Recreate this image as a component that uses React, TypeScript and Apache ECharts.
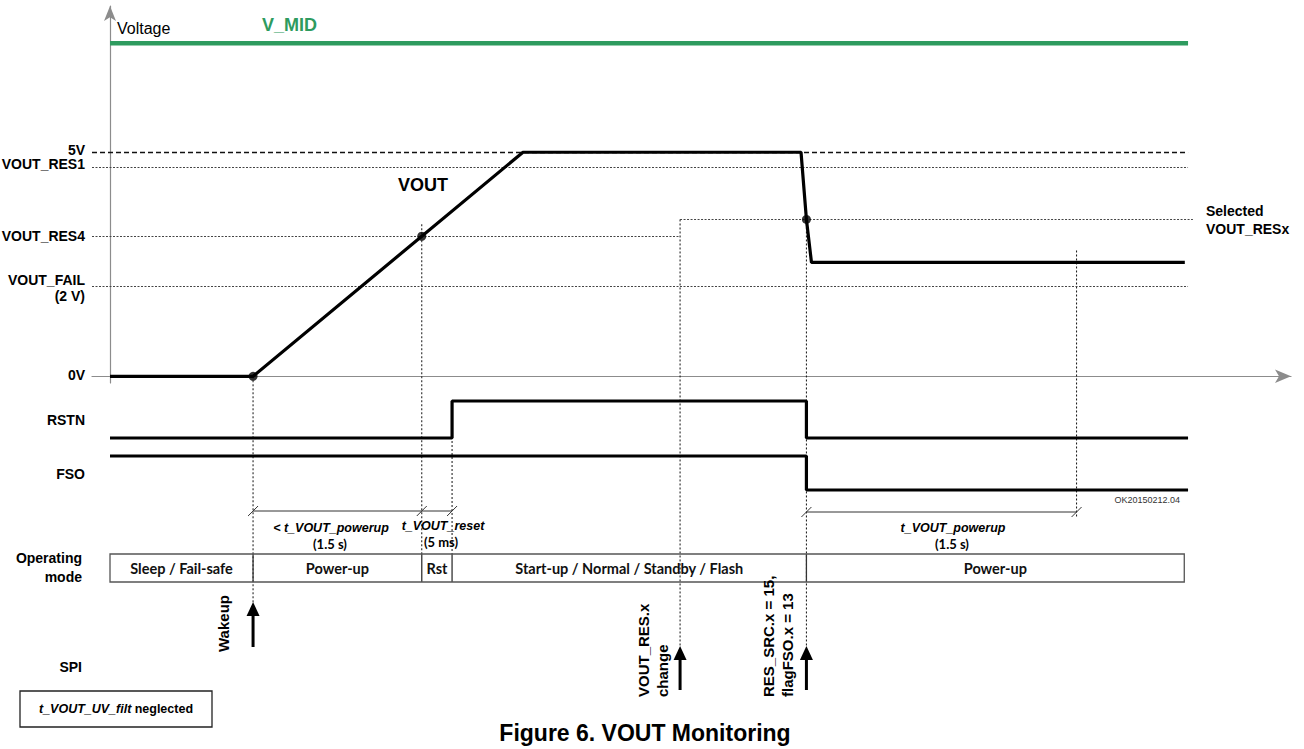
import React, { useEffect, useRef } from "react";
import * as echarts from "echarts";

// ---- data (time in arbitrary units 0..100, voltage in V, logic levels 0/1) ----
const voutTime = [0, 13.27, 38.31, 64.1, 64.6, 65.07, 99.7];
const voutVolt = [0, 0, 5, 5, 3.5, 2.54, 2.54];
const markerTime = [13.27, 28.92, 64.6];
const markerVolt = [0, 3.125, 3.5];
const rstnTime = [0, 31.73, 31.73, 64.6, 64.6, 100];
const rstnLevel = [0, 0, 1, 1, 0, 0];
const fsoTime = [0, 64.6, 64.6, 100];
const fsoLevel = [1, 1, 0, 0];
const vMidTime = [0, 100];
const vMidVolt = [7.43, 7.43];
const thresholdNames = ["5V", "VOUT_RES1", "VOUT_RES4", "VOUT_FAIL"];
const thresholdVolts = [5, 4.67, 3.125, 2.0];
const thresholdEnd = [100, 100, 52.88, 100];
const selectedResx = 3.5;
const selectedEnd = 100.45;
const resChangeTime = 52.88;
const wakeTime = 13.27;
const res4Time = 28.92;
const resetEndTime = 31.73;
const dropTime = 64.6;
const powerupEndTime = 89.66;
const modeNames = ["Sleep / Fail-safe", "Power-up", "Rst", "Start-up / Normal / Standby / Flash", "Power-up"];
const modeBounds = [0, 13.27, 28.92, 31.73, 64.6, 99.65];

const T_MIN = -1.67;
const T_MAX = 109.55;
const ARIAL = '"Liberation Sans", Arial, Helvetica, sans-serif';
const LATO = 'Lato, "Open Sans", sans-serif';

const zip = (a: number[], b: number[]) => a.map((v, i) => [v, b[i]]);

function buildOption(): any {
  const thrLines = thresholdVolts.map((v, i) => [
    {
      coord: [T_MIN, v],
      lineStyle:
        i === 0
          ? { type: [5, 3], width: 1.4, color: "#111" }
          : { type: [2, 1.5], width: 1, color: "#444" },
    },
    { coord: [thresholdEnd[i], v] },
  ]);
  thrLines.push([
    { coord: [resChangeTime, selectedResx], lineStyle: { type: [2, 1.5], width: 1, color: "#444" } },
    { coord: [selectedEnd, selectedResx] },
  ] as any);

  const hiddenX = (gi: number) => ({
    type: "value", gridIndex: gi, min: T_MIN, max: T_MAX, show: false,
  });
  const hiddenY = (gi: number) => ({
    type: "value", gridIndex: gi, min: 0, max: 1, show: false,
  });

  return {
    animation: false,
    backgroundColor: "#ffffff",
    grid: [
      { left: 92, right: 13, top: 6, bottom: 366 },
      { left: 92, right: 13, top: 401, bottom: 311 },
      { left: 92, right: 13, top: 456, bottom: 259 },
    ],
    xAxis: [
      {
        type: "value", gridIndex: 0, min: T_MIN, max: T_MAX,
        axisLine: {
          show: true, onZero: true, symbol: ["none", "arrow"], symbolSize: [10, 16],
          lineStyle: { color: "#8c8c8c", width: 1.2 },
        },
        axisTick: { show: false }, axisLabel: { show: false }, splitLine: { show: false },
      },
      hiddenX(1),
      hiddenX(2),
    ],
    yAxis: [
      {
        type: "value", gridIndex: 0, min: -0.15, max: 8.264,
        axisLine: {
          show: true, onZero: true, symbol: ["none", "arrow"], symbolSize: [9, 15],
          lineStyle: { color: "#8c8c8c", width: 1.2 },
        },
        axisTick: { show: false }, axisLabel: { show: false }, splitLine: { show: false },
      },
      hiddenY(1),
      hiddenY(2),
    ],
    series: [
      {
        name: "V_MID", type: "line", xAxisIndex: 0, yAxisIndex: 0, clip: false,
        data: zip(vMidTime, vMidVolt), symbol: "none",
        lineStyle: { color: "#2e9b5f", width: 4.5 }, z: 3,
      },
      {
        name: "VOUT", type: "line", xAxisIndex: 0, yAxisIndex: 0, clip: false,
        data: zip(voutTime, voutVolt), symbol: "none",
        lineStyle: { color: "#000", width: 3.2 }, z: 5,
        markLine: {
          silent: true, symbol: "none", label: { show: false }, animation: false,
          data: thrLines,
        },
      },
      {
        name: "markers", type: "scatter", xAxisIndex: 0, yAxisIndex: 0, clip: false,
        data: zip(markerTime, markerVolt), symbolSize: 9,
        itemStyle: { color: "#000" }, z: 6,
      },
      {
        name: "RSTN", type: "line", xAxisIndex: 1, yAxisIndex: 1, clip: false,
        data: zip(rstnTime, rstnLevel), symbol: "none",
        lineStyle: { color: "#000", width: 3.2 }, z: 5,
      },
      {
        name: "FSO", type: "line", xAxisIndex: 2, yAxisIndex: 2, clip: false,
        data: zip(fsoTime, fsoLevel), symbol: "none",
        lineStyle: { color: "#000", width: 3.2 }, z: 5,
      },
    ],
  };
}

function buildGraphic(chart: any): any[] {
  const px = (t: number) => chart.convertToPixel({ xAxisIndex: 0 }, t) as number;
  const py = (v: number) => chart.convertToPixel({ yAxisIndex: 0 }, v) as number;
  const pyR = (v: number) => chart.convertToPixel({ yAxisIndex: 1 }, v) as number;
  const pyF = (v: number) => chart.convertToPixel({ yAxisIndex: 2 }, v) as number;

  const els: any[] = [];
  const text = (x: number, y: number, t: string, font: string, align = "left", fill = "#000", rotation = 0) => {
    els.push({
      type: "text", x, y, rotation, z: 10,
      style: { text: t, font, fill, align, verticalAlign: "middle" },
    });
  };
  const line = (x1: number, y1: number, x2: number, y2: number, stroke: string, lineWidth: number, lineDash?: number[]) => {
    els.push({
      type: "line", z: 1,
      shape: { x1, y1, x2, y2 },
      style: { stroke, lineWidth, lineDash: lineDash || null },
    });
  };
  const BOLD14 = `bold 14px ${ARIAL}`;

  // left labels
  const thrOffsets = [-2, -3, 0, -7];
  thresholdNames.forEach((n, i) => text(85, py(thresholdVolts[i]) + thrOffsets[i], n, BOLD14, "right"));
  text(85, py(2.0) + 9, "(2 V)", BOLD14, "right");
  text(85, py(0) - 1, "0V", BOLD14, "right");
  text(85, (pyR(0) + pyR(1)) / 2, "RSTN", BOLD14, "right");
  text(85, (pyF(0) + pyF(1)) / 2 + 1, "FSO", BOLD14, "right");
  text(82, 558, "Operating", BOLD14, "right");
  text(82, 577, "mode", BOLD14, "right");
  text(82, 667, "SPI", BOLD14, "right");

  // top labels
  text(px(0) + 7, 28, "Voltage", `16px ${ARIAL}`);
  text(262, py(vMidVolt[0]) - 18, "V_MID", `bold 18px ${ARIAL}`, "left", "#2e9b5f");
  text(398, 185, "VOUT", `bold 18px ${ARIAL}`);
  text(1206, py(selectedResx) - 8, "Selected", BOLD14);
  text(1206, py(selectedResx) + 10, "VOUT_RESx", BOLD14);
  text(1180, pyF(0) + 10, "OK20150212.04", `9px ${ARIAL}`, "right", "#333");

  // vertical dotted guides
  const dot = [2, 2];
  line(px(wakeTime), py(0), px(wakeTime), 603, "#111", 1, dot);
  line(px(res4Time), py(3.125) - 12, px(res4Time), 554, "#111", 1, dot);
  line(px(resetEndTime), pyR(1), px(resetEndTime), 554, "#111", 1, dot);
  line(px(resChangeTime), py(selectedResx), px(resChangeTime), 647, "#111", 1, dot);
  line(px(dropTime), py(selectedResx), px(dropTime), 647, "#111", 1, dot);
  line(px(powerupEndTime), py(2.54) - 12, px(powerupEndTime), 518, "#111", 1, dot);

  // dimension lines
  const tick = (x: number, y: number) => line(x - 5, y + 5, x + 5, y - 5, "#333", 1);
  line(px(wakeTime), 511, px(resetEndTime), 511, "#333", 1);
  [wakeTime, res4Time, resetEndTime].forEach((t) => tick(px(t), 511));
  line(px(dropTime), 512, px(powerupEndTime), 512, "#333", 1);
  [dropTime, powerupEndTime].forEach((t) => tick(px(t), 512));

  const ITAL = `italic bold 12.5px ${ARIAL}`;
  const PAREN = `bold 13px ${LATO}`;
  text(331, 528, "< t_VOUT_powerup", ITAL, "center");
  text(330, 544, "(1.5 s)", PAREN, "center");
  text(443, 526, "t_VOUT_reset", ITAL, "center");
  text(441, 542, "(5 ms)", PAREN, "center");
  text(953, 528, "t_VOUT_powerup", ITAL, "center");
  text(952, 544, "(1.5 s)", PAREN, "center");

  // operating mode box
  const bx0 = px(modeBounds[0]);
  const bx1 = px(modeBounds[modeBounds.length - 1]);
  els.push({
    type: "rect", z: 2,
    shape: { x: bx0, y: 554, width: bx1 - bx0, height: 28 },
    style: { fill: "none", stroke: "#555", lineWidth: 1.3 },
  });
  for (let i = 1; i < modeBounds.length - 1; i++) {
    line(px(modeBounds[i]), 554, px(modeBounds[i]), 582, "#333", 1.3);
  }
  modeNames.forEach((n, i) => {
    const cx = (px(modeBounds[i]) + px(modeBounds[i + 1])) / 2;
    text(cx, 568, n, `bold 14.5px ${LATO}`, "center", "#111");
  });

  // arrows
  const arrow = (x: number, tip: number, bottom: number) => {
    line(x, tip + 10, x, bottom, "#000", 3);
    els.push({
      type: "polygon", z: 3,
      shape: { points: [[x, tip], [x - 6.5, tip + 14], [x + 6.5, tip + 14]] },
      style: { fill: "#000" },
    });
  };
  arrow(px(wakeTime), 602, 647);
  arrow(px(resChangeTime), 646, 690);
  arrow(px(dropTime), 646, 690);

  const ROT = `bold 15px ${ARIAL}`;
  const R = Math.PI / 2;
  text(223, 652, "Wakeup", ROT, "left", "#000", R);
  text(643, 697, "VOUT_RES.x", ROT, "left", "#000", R);
  text(662, 697, "change", ROT, "left", "#000", R);
  text(768, 697, "RES_SRC.x = 15,", ROT, "left", "#000", R);
  text(787, 697, "flagFSO.x = 13", ROT, "left", "#000", R);

  // note box
  els.push({
    type: "rect", z: 2,
    shape: { x: 20, y: 691, width: 192, height: 36 },
    style: { fill: "none", stroke: "#222", lineWidth: 1.3 },
  });
  els.push({
    type: "text", x: 116, y: 709, z: 10,
    style: {
      text: "{i|t_VOUT_UV_filt} {b|neglected}",
      align: "center", verticalAlign: "middle",
      rich: {
        i: { font: `italic bold 12.5px ${ARIAL}`, fill: "#000" },
        b: { font: `bold 12.5px ${ARIAL}`, fill: "#000" },
      },
    },
  });

  // caption
  text(645, 733, "Figure 6. VOUT Monitoring", `bold 23px ${ARIAL}`, "center");
  return els;
}

export default function App() {
  const ref = useRef<HTMLDivElement>(null);
  useEffect(() => {
    if (!ref.current) return;
    const chart = echarts.init(ref.current, null, { renderer: "svg" });
    chart.setOption(buildOption());
    chart.setOption({ graphic: buildGraphic(chart) });
    return () => chart.dispose();
  }, []);
  return (
    <div
      ref={ref}
      style={{ position: "fixed", left: 0, top: 0, width: 1304, height: 749, background: "#fff" }}
    />
  );
}
